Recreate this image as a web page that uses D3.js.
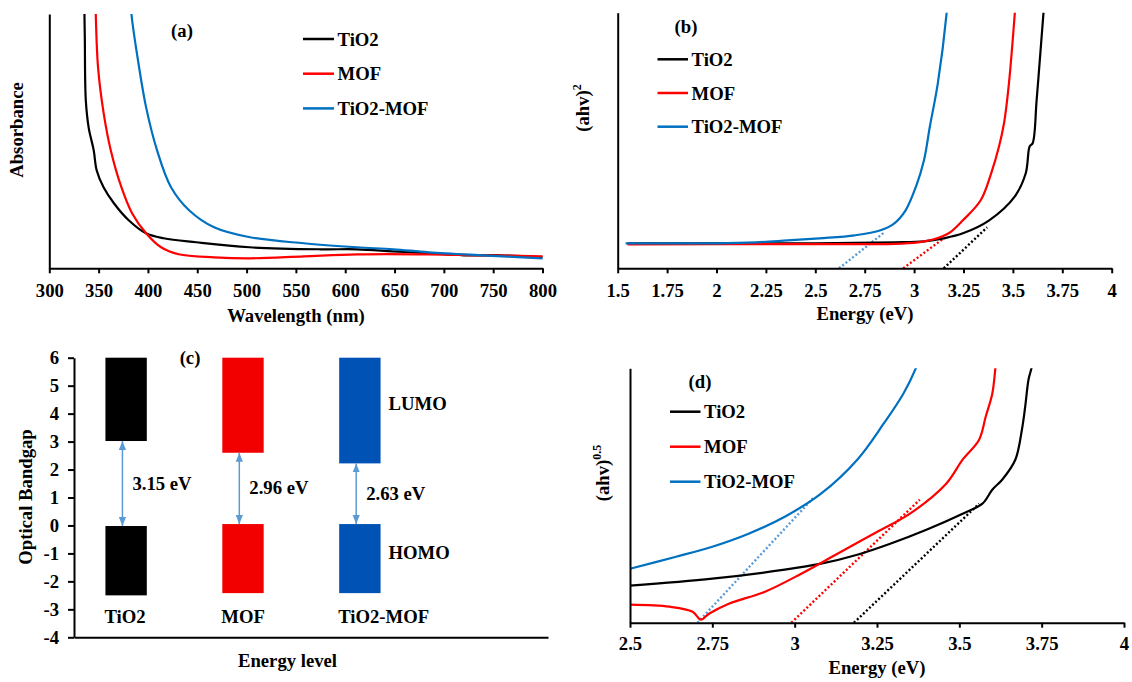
<!DOCTYPE html>
<html>
<head>
<meta charset="utf-8">
<script src="https://cdn.jsdelivr.net/npm/d3@7"></script>
<style>
  body { margin: 0; background: #fff; }
  svg text { font-family: "Liberation Serif", "Times New Roman", serif; font-weight: bold; font-size: 18.7px; fill: #000; }
  .domain { stroke: #000; stroke-width: 2; }
  .tick line { stroke: #000; stroke-width: 2; }
</style>
</head>
<body>
<div id="chart"></div>
<script>
// ---------- data ----------
const seriesNames = ["TiO2", "MOF", "TiO2-MOF"];

// (a) absorbance vs wavelength (nm)
const absTiO2 = [[335.4, 2.7], [336, 2.3], [337, 1.68], [340, 1.4], [345, 1.18], [348, 0.98], [355, 0.81],
  [365.5, 0.65], [380.5, 0.48], [398, 0.35], [416, 0.30], [449, 0.26], [503, 0.21], [575, 0.19],
  [612, 0.19], [648, 0.17], [684, 0.15], [720, 0.13], [757, 0.13], [800, 0.11]];
const absMOF = [[346.8, 2.7], [347.1, 2.54], [349.4, 2.01], [355.1, 1.55], [362.3, 1.18], [373.1, 0.81],
  [383.9, 0.55], [398.1, 0.35], [413.3, 0.21], [431.1, 0.14], [467, 0.11], [503.5, 0.10], [558, 0.12],
  [612, 0.14], [684.7, 0.14], [738.8, 0.13], [800, 0.12]];
const absComposite = [[382.8, 2.7], [383.3, 2.54], [391, 2.01], [398.1, 1.61], [409.2, 1.18], [423.4, 0.81],
  [441.7, 0.58], [467, 0.41], [503.5, 0.31], [558, 0.25], [612, 0.21], [648.6, 0.19], [684.7, 0.16],
  [738.8, 0.13], [800, 0.10]];
const waveTicks = [300, 350, 400, 450, 500, 550, 600, 650, 700, 750, 800];

// (b) (ahv)^2 vs energy (eV)
const tauc2TiO2 = [[1.55, 0.25], [2.5, 0.25], [2.9, 0.26], [3.05, 0.27], [3.15, 0.30], [3.247, 0.35],
  [3.38, 0.48], [3.51, 0.72], [3.565, 0.95], [3.585, 1.22], [3.60, 1.25], [3.62, 1.68], [3.64, 2.18],
  [3.655, 2.56], [3.66, 2.7]];
const tauc2MOF = [[1.55, 0.24], [2.5, 0.242], [2.9, 0.245], [3.02, 0.26], [3.10, 0.29], [3.175, 0.35],
  [3.247, 0.48], [3.337, 0.68], [3.39, 0.95], [3.43, 1.22], [3.455, 1.45], [3.48, 1.85], [3.51, 2.56],
  [3.515, 2.7]];
const tauc2Composite = [[1.54, 0.25], [2.0, 0.25], [2.2, 0.26], [2.34, 0.276], [2.52, 0.30], [2.70, 0.33],
  [2.83, 0.38], [2.90, 0.45], [2.957, 0.58], [3.01, 0.82], [3.05, 1.08], [3.08, 1.42], [3.12, 1.85],
  [3.165, 2.56], [3.17, 2.7]];
const fit2TiO2 = [[3.15, 0], [3.37, 0.41]];
const fit2MOF = [[2.945, 0], [3.15, 0.30]];
const fit2Composite = [[2.62, 0], [2.85, 0.36]];
const energyTicksB = [1.5, 1.75, 2, 2.25, 2.5, 2.75, 3, 3.25, 3.5, 3.75, 4];

// (c) band levels (eV)
const levelNames = ["TiO2", "MOF", "TiO2-MOF"];
const lumoTop = [6, 6, 6];
const lumoBottom = [3.02, 2.6, 2.22];
const homoTop = [-0.02, 0.05, 0.05];
const homoBottom = [-2.5, -2.42, -2.42];
const gapLabels = ["3.15 eV", "2.96 eV", "2.63 eV"];
const bandTicks = [-4, -3, -2, -1, 0, 1, 2, 3, 4, 5, 6];

// (d) (ahv)^0.5 vs energy (eV)
const tauc05TiO2 = [[2.5, 0.37], [2.75, 0.44], [2.97, 0.53], [3.08, 0.59], [3.19, 0.68], [3.29, 0.79],
  [3.40, 0.93], [3.51, 1.09], [3.57, 1.19], [3.60, 1.33], [3.63, 1.43], [3.67, 1.63], [3.69, 1.93],
  [3.70, 2.16], [3.71, 2.43], [3.72, 2.56], [3.725, 2.7]];
const tauc05MOF = [[2.5, 0.18], [2.62, 0.16], [2.69, 0.11], [2.715, 0.03], [2.74, 0.09], [2.80, 0.19],
  [2.91, 0.31], [3.02, 0.49], [3.13, 0.69], [3.24, 0.89], [3.35, 1.09], [3.46, 1.39], [3.51, 1.63],
  [3.56, 1.83], [3.58, 2.06], [3.60, 2.29], [3.61, 2.56], [3.615, 2.7]];
const tauc05Composite = [[2.5, 0.54], [2.64, 0.66], [2.75, 0.76], [2.86, 0.89], [2.97, 1.06], [3.08, 1.29],
  [3.19, 1.63], [3.27, 1.99], [3.33, 2.29], [3.37, 2.56], [3.39, 2.75]];
const fit05TiO2 = [[3.18, 0], [3.56, 1.19]];
const fit05MOF = [[2.99, 0], [3.38, 1.23]];
const fit05Composite = [[2.705, 0], [3.06, 1.26]];
const energyTicksD = [2.5, 2.75, 3, 3.25, 3.5, 3.75, 4];

// ---------- styles ----------
const lineColors = ["#000000", "#ff0000", "#0070c0"];
const fitColors = ["#000000", "#ff0000", "#5b9bd5"];
const barColors = ["#000000", "#f20000", "#0052b4"];

let svg = d3.select("#chart")
  .append("svg")
  .attr("width", 1132)
  .attr("height", 682);

// generic curve panel (a), (b), (d)
function curvePanel(p) {
  let x = d3.scaleLinear().domain(p.xDomain).range([p.left, p.right]);
  let y = d3.scaleLinear().domain([0, p.yMax]).range([p.bottom, p.top]);
  let g = svg.append("g");

  svg.append("clipPath").attr("id", "clip-" + p.id)
    .append("rect")
    .attr("x", p.left - 3).attr("y", p.top)
    .attr("width", p.right - p.left + 6).attr("height", p.bottom - p.top);

  let fitLine = d3.line().x(d => x(d[0])).y(d => y(d[1]));
  let curve = d3.line().x(d => x(d[0])).y(d => y(d[1])).curve(d3.curveCatmullRom.alpha(0.5));
  let plot = g.append("g").attr("clip-path", `url(#clip-${p.id})`);

  // dotted tangent fits
  plot.selectAll("path.fit")
    .data(p.fits || [])
    .enter()
    .append("path")
    .attr("d", d => fitLine(d))
    .attr("fill", "none")
    .attr("stroke", (d, i) => fitColors[i])
    .attr("stroke-width", 2.4)
    .attr("stroke-dasharray", "2,2.2");

  // curves
  plot.selectAll("path.curve")
    .data(p.series)
    .enter()
    .append("path")
    .attr("d", d => curve(d))
    .attr("fill", "none")
    .attr("stroke", (d, i) => lineColors[i])
    .attr("stroke-width", 2.2);

  // axes
  g.append("g")
    .attr("transform", `translate(0,${p.bottom})`)
    .call(d3.axisBottom(x).tickValues(p.ticks).tickFormat(d => d)
      .tickSize(5).tickSizeOuter(0).tickPadding(p.tickPad));
  g.append("g")
    .attr("transform", `translate(${p.left},0)`)
    .call(d3.axisLeft(y).tickValues([]).tickSizeOuter(0));
  g.selectAll(".tick text").attr("font-size", null).attr("font-family", null);

  // legend
  let leg = g.selectAll("g.leg")
    .data(seriesNames)
    .enter()
    .append("g")
    .attr("transform", (d, i) => `translate(${p.legX},${p.legY + i * p.legDy})`);
  leg.append("line")
    .attr("x1", 0).attr("x2", p.legW)
    .attr("stroke", (d, i) => lineColors[i])
    .attr("stroke-width", 2.5);
  leg.append("text")
    .attr("x", p.legW + 3.5).attr("y", 6.5)
    .text(d => d);

  // panel tag and titles
  g.append("text").attr("x", p.tag[0]).attr("y", p.tag[1])
    .attr("text-anchor", "middle").text(p.tag[2]);
  g.append("text").attr("x", p.xTitle[0]).attr("y", p.xTitle[1])
    .attr("text-anchor", "middle").text(p.xTitle[2]);
  let yt = g.append("text")
    .attr("transform", `translate(${p.yTitle[0]},${p.yTitle[1]}) rotate(-90)`)
    .attr("text-anchor", "middle")
    .text(p.yTitle[2]);
  if (p.yTitle[3]) {
    yt.append("tspan").attr("dy", -8).attr("font-size", "12px").text(p.yTitle[3]);
  }
}

// (a)
curvePanel({
  id: "a", xDomain: [300, 800], yMax: 2.54,
  left: 49.3, right: 542.5, top: 14, bottom: 268.3, tickPad: 10,
  ticks: waveTicks,
  series: [absTiO2, absMOF, absComposite],
  legX: 303, legY: 39, legDy: 34.7, legW: 31,
  tag: [182, 37, "(a)"],
  xTitle: [296, 322, "Wavelength (nm)"],
  yTitle: [23, 130, "Absorbance"]
});

// (b)
curvePanel({
  id: "b", xDomain: [1.5, 4], yMax: 2.556,
  left: 617.7, right: 1111.7, top: 12.7, bottom: 268.3, tickPad: 10,
  ticks: energyTicksB,
  series: [tauc2TiO2, tauc2MOF, tauc2Composite],
  fits: [fit2TiO2, fit2MOF, fit2Composite],
  legX: 657.5, legY: 59.3, legDy: 33.7, legW: 30.5,
  tag: [686, 33, "(b)"],
  xTitle: [865, 320, "Energy (eV)"],
  yTitle: [589, 108, "(ahv)", "2"]
});

// (d)
curvePanel({
  id: "d", xDomain: [2.5, 4], yMax: 2.544,
  left: 630, right: 1124, top: 368.3, bottom: 622.7, tickPad: 9,
  ticks: energyTicksD,
  series: [tauc05TiO2, tauc05MOF, tauc05Composite],
  fits: [fit05TiO2, fit05MOF, fit05Composite],
  legX: 670, legY: 411.7, legDy: 35, legW: 30.5,
  tag: [700, 388, "(d)"],
  xTitle: [877, 674, "Energy (eV)"],
  yTitle: [609, 473, "(ahv)", "0.5"]
});

// (c) band diagram
let xc = d3.scaleBand().domain(levelNames).range([74, 412]).paddingInner(0.646).paddingOuter(0.269);
let yc = d3.scaleLinear().domain([-4, 6]).range([637.3, 357.7]);
let gc = svg.append("g");

gc.selectAll("rect.lumo")
  .data(levelNames)
  .enter()
  .append("rect")
  .attr("x", d => xc(d))
  .attr("width", xc.bandwidth())
  .attr("y", (d, i) => yc(lumoTop[i]))
  .attr("height", (d, i) => yc(lumoBottom[i]) - yc(lumoTop[i]))
  .attr("fill", (d, i) => barColors[i]);

gc.selectAll("rect.homo")
  .data(levelNames)
  .enter()
  .append("rect")
  .attr("x", d => xc(d))
  .attr("width", xc.bandwidth())
  .attr("y", (d, i) => yc(homoTop[i]))
  .attr("height", (d, i) => yc(homoBottom[i]) - yc(homoTop[i]))
  .attr("fill", (d, i) => barColors[i]);

// double headed arrows
svg.append("defs").append("marker")
  .attr("id", "arrowHead")
  .attr("viewBox", "0 0 10 10")
  .attr("refX", 10).attr("refY", 5)
  .attr("markerUnits", "userSpaceOnUse")
  .attr("markerWidth", 9).attr("markerHeight", 9)
  .attr("orient", "auto-start-reverse")
  .append("path")
  .attr("d", "M0,1 L10,5 L0,9 Z")
  .attr("fill", "#5b9bd5");

gc.selectAll("line.gap")
  .data(levelNames)
  .enter()
  .append("line")
  .attr("x1", d => xc(d) + 17).attr("x2", d => xc(d) + 17)
  .attr("y1", (d, i) => yc(lumoBottom[i]))
  .attr("y2", (d, i) => yc(homoTop[i]))
  .attr("stroke", "#5b9bd5")
  .attr("stroke-width", 1.5)
  .attr("marker-start", "url(#arrowHead)")
  .attr("marker-end", "url(#arrowHead)");

gc.selectAll("text.gap")
  .data(gapLabels)
  .enter()
  .append("text")
  .attr("x", (d, i) => xc(levelNames[i]) + 27)
  .attr("y", (d, i) => yc((lumoBottom[i] + homoTop[i]) / 2) + 6)
  .text(d => d);

gc.selectAll("text.cat")
  .data(levelNames)
  .enter()
  .append("text")
  .attr("x", d => xc(d) - 1)
  .attr("y", yc(-4) - 14)
  .text(d => d);

let lastBand = levelNames[levelNames.length - 1];
gc.append("text").attr("x", xc(lastBand) + xc.bandwidth() + 8).attr("y", yc(4.35) + 6).text("LUMO");
gc.append("text").attr("x", xc(lastBand) + xc.bandwidth() + 8).attr("y", yc(-1) + 6).text("HOMO");

// axes of (c)
gc.append("g")
  .attr("transform", `translate(74,0)`)
  .call(d3.axisLeft(yc).tickValues(bandTicks).tickFormat(d => d)
    .tickSize(6).tickSizeOuter(0).tickPadding(9));
gc.append("g")
  .attr("transform", `translate(0,${yc(-4)})`)
  .call(d3.axisBottom(d3.scaleLinear().range([74, 548])).tickValues([]).tickSizeOuter(0));
gc.selectAll(".tick text").attr("font-size", null).attr("font-family", null);

gc.append("text").attr("x", 190).attr("y", 364).attr("text-anchor", "middle").text("(c)");
gc.append("text").attr("x", 287.5).attr("y", 667).attr("text-anchor", "middle").text("Energy level");
gc.append("text")
  .attr("transform", "translate(32,497) rotate(-90)")
  .attr("text-anchor", "middle")
  .text("Optical Bandgap");
</script>
</body>
</html>
